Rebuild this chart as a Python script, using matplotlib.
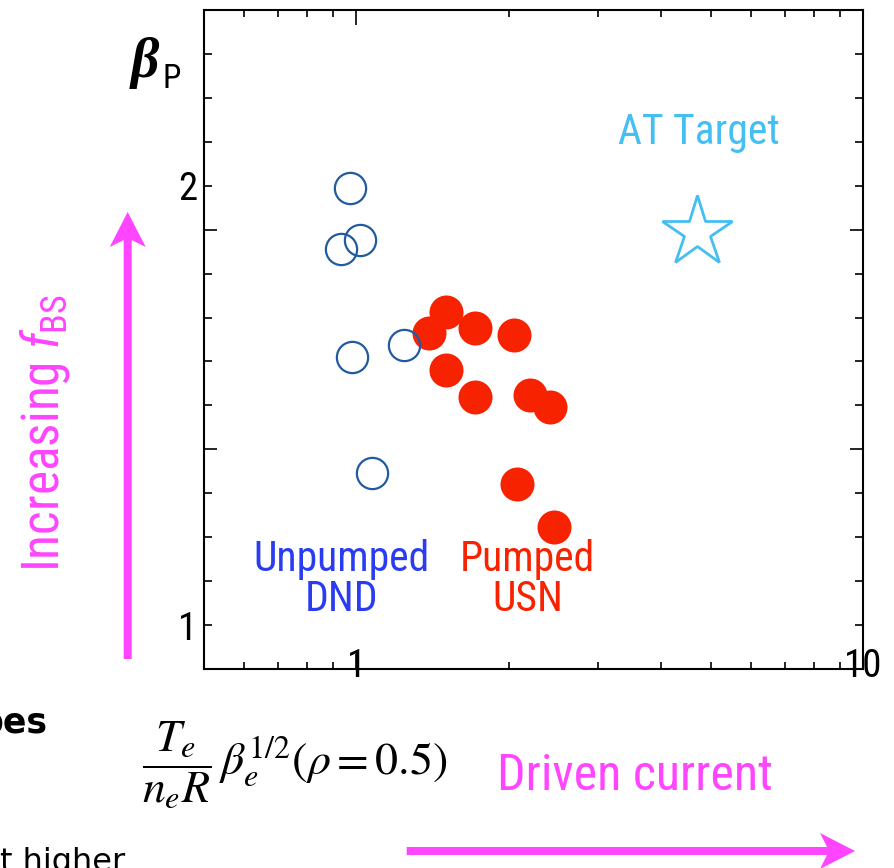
import numpy as np
import matplotlib
matplotlib.use('Agg')
import matplotlib.pyplot as plt
from matplotlib import font_manager
from matplotlib.patches import FancyArrow
from matplotlib.ticker import FixedLocator, FuncFormatter, NullFormatter


# scan data: x = Te/(ne R) * beta_e^1/2 at rho = 0.5, y = beta_P
unpumped_x = [0.970, 0.930, 1.015, 0.981, 1.240, 1.074]
unpumped_y = [1.994, 1.856, 1.877, 1.610, 1.637, 1.347]

pumped_x = [1.503, 1.389, 1.712, 2.043, 1.503, 1.712, 2.197, 2.406, 2.075, 2.450]
pumped_y = [1.713, 1.665, 1.677, 1.661, 1.580, 1.520, 1.523, 1.497, 1.320, 1.224]

target_x = [4.70]
target_y = [1.894]

x_major = [1, 10]
x_minor = [0.6, 0.7, 0.8, 0.9, 2, 3, 4, 5, 6, 7, 8, 9]
y_major = [0.9, 1.4, 1.9, 2.4]
y_minor = [1.0, 1.1, 1.2, 1.3, 1.5, 1.6, 1.7, 1.8, 2.0, 2.1, 2.2, 2.3]
y_labels = {1.0: '1', 2.0: '2'}

MAGENTA = '#ff45ff'
RED = '#f72300'
BLUE_TXT = '#2a3cf2'
BLUE_EDGE = '#1f5b9e'
SKY = '#45bef2'

# pick a narrow sans if one is around
installed = {f.name for f in font_manager.fontManager.ttflist}
narrow = [n for n in ['Liberation Sans Narrow', 'Roboto Condensed',
                      'DejaVu Sans Condensed', 'Open Sans Condensed']
          if n in installed]
SANS = narrow[0] if narrow else 'Liberation Sans'

plt.rcParams['font.family'] = [SANS, 'Liberation Sans', 'DejaVu Sans']
plt.rcParams['mathtext.fontset'] = 'custom'
plt.rcParams['mathtext.rm'] = SANS
plt.rcParams['mathtext.it'] = SANS + ':italic'
plt.rcParams['mathtext.bf'] = SANS + ':bold'

W, H = 895, 868


def fx(px):
    return px / W


def fy(py):
    return 1 - py / H


fig = plt.figure(figsize=(W / 100, H / 100), dpi=100)
ax = fig.add_axes([fx(204), fy(669), fx(863) - fx(204), fy(10) - fy(669)])

ax.plot(pumped_x, pumped_y, 'o', ms=24.5, mfc=RED, mec='none', zorder=3)
ax.plot(unpumped_x, unpumped_y, 'o', ms=22.5, mfc='none', mec=BLUE_EDGE,
        mew=1.6, zorder=4)
ax.plot(target_x, target_y, '*', ms=53, mfc='white', mec=SKY, mew=2,
        zorder=4)

ax.set_xscale('log')
ax.set_xlim(0.5, 10)
ax.set_ylim(0.9, 2.4)

ax.xaxis.set_major_locator(FixedLocator(x_major))
ax.xaxis.set_major_formatter(FuncFormatter(lambda v, p: '%g' % v))
ax.xaxis.set_minor_locator(FixedLocator(x_minor))
ax.xaxis.set_minor_formatter(NullFormatter())

ax.yaxis.set_major_locator(FixedLocator(y_major))
ax.yaxis.set_major_formatter(NullFormatter())
ax.yaxis.set_minor_locator(FixedLocator(y_minor))
ax.yaxis.set_minor_formatter(
    FuncFormatter(lambda v, p: y_labels.get(round(v, 1), '')))

for s in ax.spines.values():
    s.set_linewidth(1.5)

ax.tick_params(which='both', direction='in', top=True, right=True,
               width=1.2, labelsize=28)
ax.tick_params(axis='x', which='major', length=11, pad=-15)
ax.tick_params(axis='x', which='minor', length=5)
ax.tick_params(axis='y', which='major', length=9.5)
ax.tick_params(axis='y', which='minor', length=5.5, pad=5)

# group labels inside the axes
ax.text(4.75, 2.095, 'AT Target', color=SKY, fontsize=30, ha='center',
        va='baseline')
ax.text(0.936, 1.123, 'Unpumped', color=BLUE_TXT, fontsize=30, ha='center',
        va='baseline')
ax.text(0.936, 1.0325, 'DND', color=BLUE_TXT, fontsize=30, ha='center',
        va='baseline')
ax.text(2.175, 1.123, 'Pumped', color=RED, fontsize=30, ha='center',
        va='baseline')
ax.text(2.175, 1.0325, 'USN', color=RED, fontsize=30, ha='center',
        va='baseline')

# y axis title
fig.text(fx(131), fy(77), '\u03b2', fontsize=40, family='Liberation Serif',
         style='italic', weight='bold', ha='left', va='baseline')
fig.text(fx(163), fy(88), 'P', fontsize=24, ha='left', va='baseline')

# x axis quantity
fig.text(fx(142), fy(765),
         r'$\dfrac{T_e}{n_e R}\,\beta_e^{1/2}(\rho=0.5)$',
         math_fontfamily='stix', fontsize=33, ha='left', va='center')
fig.text(fx(497), fy(790), 'Driven current', color=MAGENTA, fontsize=36,
         ha='left', va='baseline')
fig.text(fx(45), fy(433), r'Increasing $\mathit{f}_{\mathrm{BS}}$',
         color=MAGENTA, fontsize=37, rotation=90, ha='center', va='center')

# direction arrows
fig.add_artist(FancyArrow(1.277, 2.09, 0, 4.47, width=0.08, head_width=0.36,
                          head_length=0.35, length_includes_head=True,
                          overhang=0.2, color=MAGENTA, lw=0,
                          transform=fig.dpi_scale_trans))
fig.add_artist(FancyArrow(4.067, 0.17, 4.483, 0, width=0.08, head_width=0.36,
                          head_length=0.35, length_includes_head=True,
                          overhang=0.2, color=MAGENTA, lw=0,
                          transform=fig.dpi_scale_trans))

# slide text running off the left edge
fig.text(fx(-22), fy(733), 'pes', fontsize=25, family='DejaVu Sans',
         weight='bold', ha='left', va='baseline')
fig.text(fx(0), fy(871), 't higher', fontsize=23, family='DejaVu Sans',
         ha='left', va='baseline')

fig.savefig('out.png', dpi=100)
